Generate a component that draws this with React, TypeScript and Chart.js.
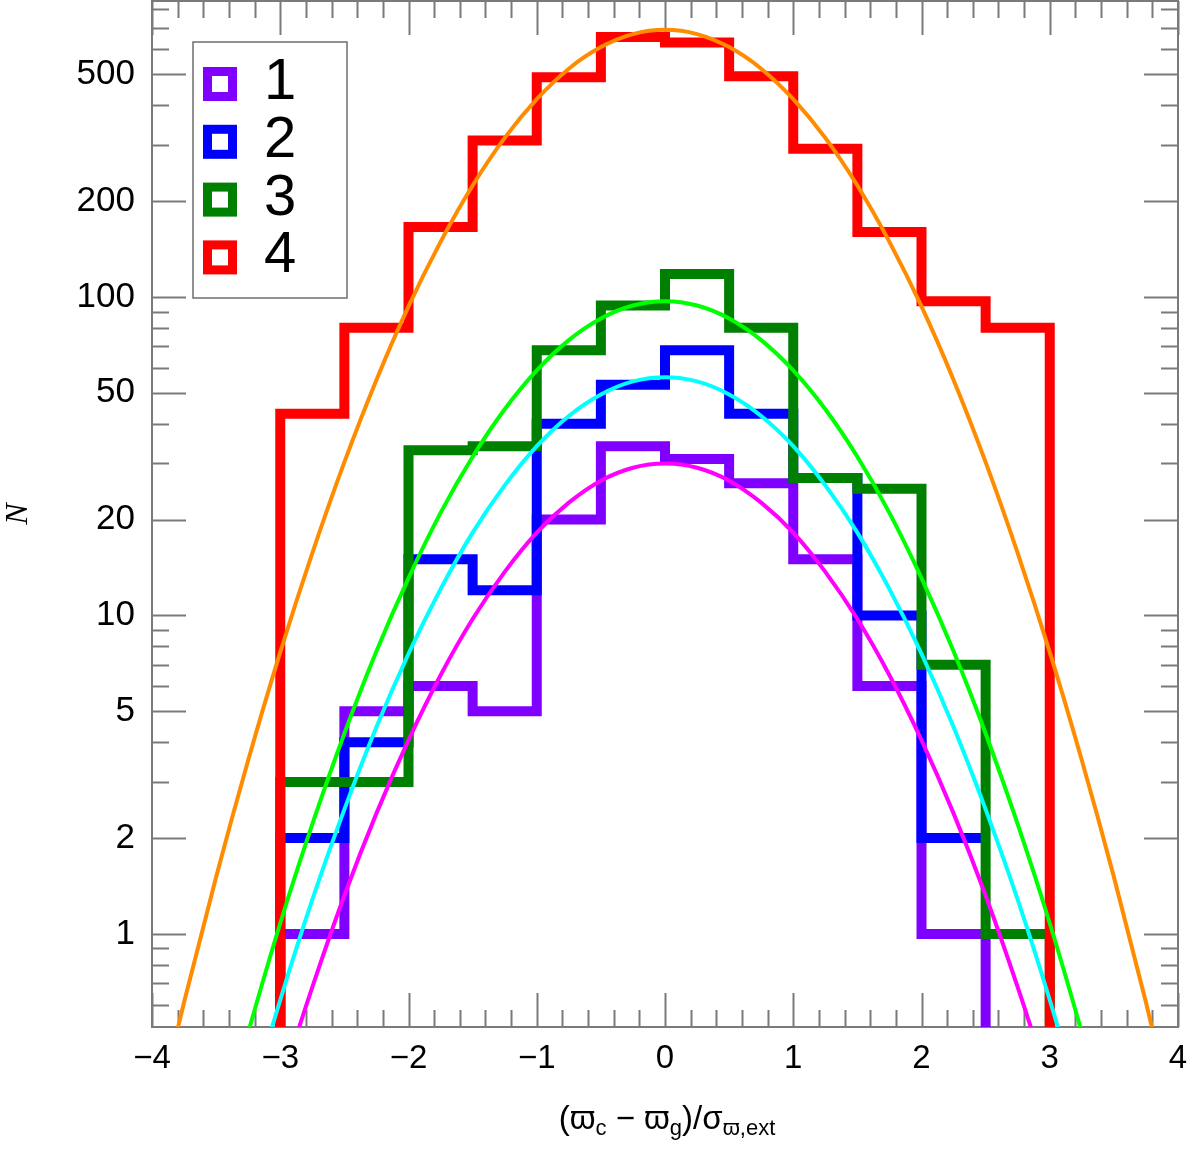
import React, { useEffect, useRef } from 'react';
import { Chart, registerables } from 'chart.js';

Chart.register(...registerables);

// ---------- data ----------
const binEdges = [-3, -2.5, -2, -1.5, -1, -0.5, 0, 0.5, 1, 1.5, 2, 2.5, 3];
const counts1 = [1, 5, 6, 5, 20, 34, 31, 26, 15, 6, 1];
const counts2 = [2, 4, 15, 12, 40, 53, 68, 43, 27, 10, 2];
const counts3 = [3, 3, 33, 34, 68, 94, 118, 80, 27, 25, 7, 1];
const counts4 = [43, 80, 166, 310, 490, 655, 630, 493, 292, 160, 97, 80];
const dropAtEnd = [true, false, true, true];
const histLabels = ['1', '2', '3', '4'];
const histColors = ['rgb(127,0,255)', 'rgb(0,0,255)', 'rgb(0,128,0)', 'rgb(255,0,0)'];

const curveX = [-4, -3.75, -3.5, -3.25, -3, -2.75, -2.5, -2.25, -2, -1.75, -1.5, -1.25, -1, -0.75, -0.5, -0.25, 0,
  0.25, 0.5, 0.75, 1, 1.25, 1.5, 1.75, 2, 2.25, 2.5, 2.75, 3, 3.25, 3.5, 3.75, 4];
const curveMagenta = [0.01, 0.027, 0.066, 0.15, 0.33, 0.68, 1.32, 2.39, 4.06, 6.49, 9.74, 13.7, 18.2, 22.6, 26.5, 29.1, 30,
  29.1, 26.5, 22.6, 18.2, 13.7, 9.74, 6.49, 4.06, 2.39, 1.32, 0.68, 0.33, 0.15, 0.066, 0.027, 0.01];
const curveCyan = [0.019, 0.05, 0.12, 0.28, 0.62, 1.28, 2.46, 4.46, 7.58, 12.1, 18.2, 25.6, 34.0, 42.3, 49.4, 54.3, 56,
  54.3, 49.4, 42.3, 34.0, 25.6, 18.2, 12.1, 7.58, 4.46, 2.46, 1.28, 0.62, 0.28, 0.12, 0.05, 0.019];
const curveLime = [0.032, 0.086, 0.21, 0.49, 1.08, 2.21, 4.26, 7.72, 13.1, 21.0, 31.5, 44.4, 58.8, 73.2, 85.6, 94.0, 97,
  94.0, 85.6, 73.2, 58.8, 44.4, 31.5, 21.0, 13.1, 7.72, 4.26, 2.21, 1.08, 0.49, 0.21, 0.086, 0.032];
const curveOrange = [0.23, 0.61, 1.51, 3.51, 7.67, 15.7, 30.3, 54.9, 93.4, 149, 224, 316, 418, 521, 609, 669, 690,
  669, 609, 521, 418, 316, 224, 149, 93.4, 54.9, 30.3, 15.7, 7.67, 3.51, 1.51, 0.61, 0.23];
const curveColors = ['rgb(255,0,255)', 'rgb(0,255,255)', 'rgb(0,255,0)', 'rgb(255,140,0)'];

const xMajorTicks = [-4, -3, -2, -1, 0, 1, 2, 3, 4];
const yLabeledTicks = [1, 2, 5, 10, 20, 50, 100, 200, 500];
const yMinorTicks = [0.6, 0.7, 0.8, 0.9, 3, 4, 6, 7, 8, 9, 30, 40, 60, 70, 80, 90, 300, 400, 600, 700, 800];

const X_MIN = -4;
const X_MAX = 4;
const Y_MIN = 0.51;
const Y_MAX = 850;

const SANS = '"Liberation Sans", Arial, Helvetica, sans-serif';

// ---------- helpers ----------
const FLOOR = 0.1; // below axis minimum -> drawn off the plot
function histPoints(edges: number[], counts: number[], dropEnd: boolean) {
  const pts: { x: number; y: number }[] = [];
  pts.push({ x: edges[0], y: FLOOR });
  for (let i = 0; i < counts.length; i++) pts.push({ x: edges[i], y: counts[i] });
  const last = edges[counts.length];
  pts.push({ x: last, y: counts[counts.length - 1] });
  if (dropEnd) pts.push({ x: last, y: FLOOR });
  return pts;
}
function curvePoints(xs: number[], ys: number[]) {
  return xs.map((x, i) => ({ x, y: ys[i] }));
}
const fmtX = (v: number) => (v < 0 ? '\u2212' + Math.abs(v) : String(v));

// ---------- plugins ----------
const framePlugin = {
  id: 'frameTicks',
  beforeDatasetsDraw(chart: any) {
    const { ctx, chartArea: a, scales } = chart;
    const xs = scales.x;
    const ys = scales.y;
    ctx.save();
    ctx.strokeStyle = '#7a7a7a';
    ctx.lineWidth = 2;
    ctx.beginPath();
    const xTicks: { v: number; major: boolean }[] = [];
    for (let i = 0; i <= 40; i++) {
      const v = X_MIN + i * 0.2;
      const r = Math.round(v);
      xTicks.push({ v, major: Math.abs(v - r) < 1e-6 && xMajorTicks.includes(r) });
    }
    xTicks.forEach(({ v, major }) => {
      const px = Math.round(xs.getPixelForValue(v)) + 0.5;
      const len = major ? 34 : 17;
      ctx.moveTo(px, a.bottom);
      ctx.lineTo(px, a.bottom - len);
      ctx.moveTo(px, a.top);
      ctx.lineTo(px, a.top + len);
    });
    const yTicks = [
      ...yLabeledTicks.map((v) => ({ v, major: true })),
      ...yMinorTicks.map((v) => ({ v, major: false })),
    ];
    yTicks.forEach(({ v, major }) => {
      const py = Math.round(ys.getPixelForValue(v)) + 0.5;
      const len = major ? 34 : 17;
      ctx.moveTo(a.left, py);
      ctx.lineTo(a.left + len, py);
      ctx.moveTo(a.right, py);
      ctx.lineTo(a.right - len, py);
    });
    ctx.stroke();
    ctx.lineWidth = 2;
    ctx.strokeRect(a.left, a.top, a.right - a.left, a.bottom - a.top);
    ctx.restore();
  },
};

const legendPlugin = {
  id: 'boxLegend',
  afterDraw(chart: any) {
    const { ctx, chartArea: a } = chart;
    const left = a.left + 41;
    const top = a.top + 41;
    const w = 154;
    const h = 256;
    ctx.save();
    ctx.fillStyle = '#fff';
    ctx.fillRect(left, top, w, h);
    ctx.strokeStyle = '#6e6e6e';
    ctx.lineWidth = 1.5;
    ctx.strokeRect(left, top, w, h);
    histLabels.forEach((lab, i) => {
      const cy = top + 42 + i * 57.8;
      const cx = left + 27;
      ctx.strokeStyle = histColors[i];
      ctx.lineWidth = 9;
      ctx.lineJoin = 'miter';
      ctx.strokeRect(cx - 12.5, cy - 12.5, 25, 25);
      ctx.fillStyle = '#000';
      ctx.font = `58px ${SANS}`;
      ctx.textAlign = 'left';
      ctx.textBaseline = 'alphabetic';
      ctx.fillText(lab, left + 71, cy + 15);
    });
    ctx.restore();
  },
};

const titlesPlugin = {
  id: 'axisTitles',
  afterDraw(chart: any) {
    const { ctx, chartArea: a } = chart;
    ctx.save();
    // y title
    ctx.fillStyle = '#000';
    ctx.font = 'italic 32px "Liberation Serif", "Times New Roman", serif';
    ctx.translate(19, (a.top + a.bottom) / 2);
    ctx.rotate(-Math.PI / 2);
    ctx.textAlign = 'center';
    ctx.textBaseline = 'middle';
    ctx.fillText('N', 0, 0);
    ctx.restore();

    // x title with subscripts
    ctx.save();
    ctx.fillStyle = '#000';
    ctx.textAlign = 'left';
    ctx.textBaseline = 'alphabetic';
    const parts = [
      { t: '(\u03D6', sub: false },
      { t: 'c', sub: true },
      { t: ' \u2212 \u03D6', sub: false },
      { t: 'g', sub: true },
      { t: ')/\u03C3', sub: false },
      { t: '\u03D6,ext', sub: true },
    ];
    const mainFont = `33px ${SANS}`;
    const subFont = `22px ${SANS}`;
    let total = 0;
    parts.forEach((p) => {
      ctx.font = p.sub ? subFont : mainFont;
      total += ctx.measureText(p.t).width;
    });
    const cx = (a.left + a.right) / 2 + 2;
    let x = cx - total / 2;
    const base = a.bottom + 102;
    parts.forEach((p) => {
      ctx.font = p.sub ? subFont : mainFont;
      ctx.fillText(p.t, x, p.sub ? base + 6 : base);
      x += ctx.measureText(p.t).width;
    });
    ctx.restore();
  },
};

export default function App() {
  const ref = useRef<HTMLCanvasElement | null>(null);

  useEffect(() => {
    if (!ref.current) return;
    const histCounts = [counts1, counts2, counts3, counts4];
    const histDatasets = histCounts.map((c, i) => ({
      label: histLabels[i],
      data: histPoints(binEdges, c, dropAtEnd[i]),
      borderColor: histColors[i],
      backgroundColor: histColors[i],
      borderWidth: 10,
      stepped: 'before' as const,
      fill: false,
      pointRadius: 0,
      borderJoinStyle: 'miter' as const,
      borderCapStyle: 'butt' as const,
      clip: 0,
      order: 8 - i,
    }));
    const curveData = [curveMagenta, curveCyan, curveLime, curveOrange];
    const curveDatasets = curveData.map((ys, i) => ({
      label: 'fit' + (i + 1),
      data: curvePoints(curveX, ys),
      borderColor: curveColors[i],
      backgroundColor: curveColors[i],
      borderWidth: 4,
      fill: false,
      pointRadius: 0,
      cubicInterpolationMode: 'monotone' as const,
      clip: 0,
      order: 4 - i,
    }));

    const chart = new Chart(ref.current, {
      type: 'line',
      data: { datasets: [...histDatasets, ...curveDatasets] as any },
      options: {
        animation: false,
        responsive: false,
        maintainAspectRatio: false,
        layout: { padding: { left: 0, right: 22, top: 1, bottom: 0 } },
        plugins: { legend: { display: false }, tooltip: { enabled: false }, title: { display: false } },
        scales: {
          x: {
            type: 'linear',
            min: X_MIN,
            max: X_MAX,
            position: 'bottom',
            grid: { display: false, drawTicks: false, tickLength: 0 },
            border: { display: false },
            afterBuildTicks: (s: any) => {
              s.ticks = xMajorTicks.map((v) => ({ value: v }));
            },
            afterFit: (s: any) => {
              s.height = 122;
              s.paddingLeft = 0;
              s.paddingRight = 0;
            },
            ticks: {
              autoSkip: false,
              maxRotation: 0,
              minRotation: 0,
              padding: 12,
              color: '#000',
              font: { family: SANS, size: 33 },
              callback: (v: any) => fmtX(Number(v)),
            },
          },
          y: {
            type: 'logarithmic',
            min: Y_MIN,
            max: Y_MAX,
            position: 'left',
            grid: { display: false, drawTicks: false, tickLength: 0 },
            border: { display: false },
            afterBuildTicks: (s: any) => {
              s.ticks = yLabeledTicks.map((v) => ({ value: v }));
            },
            afterFit: (s: any) => {
              s.width = 152;
              s.paddingTop = 0;
              s.paddingBottom = 0;
            },
            ticks: {
              autoSkip: false,
              padding: 17,
              color: '#000',
              font: { family: SANS, size: 35 },
              callback: (v: any) => String(Number(v)),
            },
          },
        },
      } as any,
      plugins: [framePlugin, legendPlugin, titlesPlugin],
    });
    return () => chart.destroy();
  }, []);

  return (
    <div style={{ position: 'absolute', left: 0, top: 0, width: 1200, height: 1149, background: '#fff' }}>
      <canvas ref={ref} width={1200} height={1149} style={{ width: 1200, height: 1149, display: 'block' }} />
    </div>
  );
}
